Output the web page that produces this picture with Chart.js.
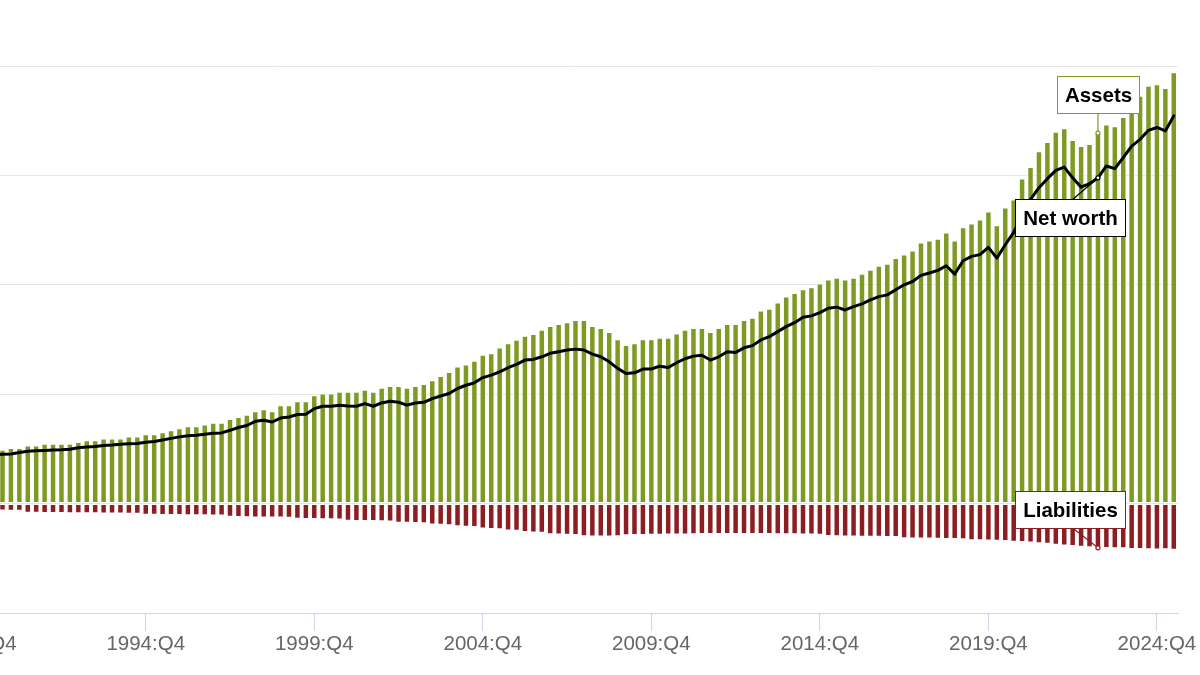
<!DOCTYPE html>
<html>
<head>
<meta charset="utf-8">
<script src="https://cdn.jsdelivr.net/npm/chart.js@4.4.1/dist/chart.umd.min.js"></script>
<style>
  html, body { margin: 0; padding: 0; background: #ffffff; overflow: hidden; width: 1200px; height: 675px; }
  #wrap { position: absolute; left: -70px; top: 0; width: 1270px; height: 675px; }
</style>
</head>
<body>
<div id="wrap"><canvas id="c"></canvas></div>
<script>
// ---- Categories: quarters 1989:Q4 .. 2025:Q2 ----
const firstYear = 1989, firstQuarter = 4, lastYear = 2025, lastQuarter = 2;
const categories = [];
for (let y = firstYear; y <= lastYear; y++) {
  for (let q = 1; q <= 4; q++) {
    if ((y === firstYear && q < firstQuarter) || (y === lastYear && q > lastQuarter)) continue;
    categories.push(y + ':Q' + q);
  }
}

// ---- Tick labels on the x axis ----
const tickLabels = ['1989:Q4', '1994:Q4', '1999:Q4', '2004:Q4', '2009:Q4', '2014:Q4', '2019:Q4', '2024:Q4'];

// ---- Assets (trillions of dollars) ----
const assets = [
  null,                        // 1989 Q4
  null, 24.2, 24.6, 25.4,      // 1990
  25.4, 26.5, 26.5, 27.4,      // 1991
  27.4, 27.4, 27.4, 28.1,      // 1992
  28.9, 28.9, 29.8, 29.8,      // 1993
  29.8, 30.7, 30.7, 31.7,      // 1994
  31.7, 32.6, 33.5, 34.4,      // 1995
  35.3, 35.3, 36.2, 37.0,      // 1996
  37.0, 38.7, 39.6, 40.6,      // 1997
  42.2, 43.1, 42.2, 45.0,      // 1998
  45.0, 46.8, 46.8, 49.5,      // 1999
  50.3, 50.3, 51.1, 51.1,      // 2000
  51.1, 52.0, 51.1, 52.9,      // 2001
  53.7, 53.7, 52.9, 53.8,      // 2002
  54.7, 56.4, 58.3, 60.1,      // 2003
  62.7, 63.6, 65.3, 68.0,      // 2004
  68.7, 71.4, 73.3, 74.9,      // 2005
  76.7, 77.5, 79.4, 81.2,      // 2006
  82.1, 82.9, 83.9, 83.9,      // 2007
  81.2, 80.3, 78.4, 75.1,      // 2008
  72.5, 73.3, 75.1, 75.1,      // 2009
  75.8, 75.8, 77.7, 79.4,      // 2010
  80.3, 80.3, 78.4, 80.3,      // 2011
  82.1, 82.1, 83.9, 84.9,      // 2012
  88.2, 89.1, 91.9, 94.6,      // 2013
  96.2, 98.0, 98.9, 100.6,     // 2014
  102.4, 103.2, 102.4, 103.2,  // 2015
  105.0, 106.9, 108.7, 109.6,  // 2016
  112.2, 113.9, 115.7, 119.3,  // 2017
  120.2, 121.1, 123.9, 120.2,  // 2018
  126.3, 128.0, 129.8, 133.5,  // 2019
  127.2, 135.3, 139.0, 148.6,  // 2020
  153.8, 161.0, 165.3, 169.9,  // 2021
  171.6, 166.2, 163.4, 164.4,  // 2022
  169.3, 173.3, 172.5, 176.7,  // 2023
  181.0, 186.4, 191.0, 191.7,  // 2024
  189.9, 197.1                 // 2025
];

// ---- Net worth (trillions of dollars) ----
const netWorth = [
  null,                        // 1989 Q4
  null, 22.2, 22.5, 22.7,      // 1990
  23.4, 23.9, 24.1, 24.3,      // 1991
  24.5, 24.6, 24.8, 25.5,      // 1992
  25.9, 26.1, 26.6, 26.8,      // 1993
  27.1, 27.3, 27.5, 28.0,      // 1994
  28.4, 29.1, 29.8, 30.5,      // 1995
  31.0, 31.2, 31.7, 32.1,      // 1996
  32.3, 33.5, 34.8, 35.7,      // 1997
  37.6, 38.1, 37.3, 39.1,      // 1998
  39.6, 40.7, 40.8, 43.4,      // 1999
  44.5, 44.5, 45.0, 44.6,      // 2000
  44.5, 45.7, 44.5, 46.0,      // 2001
  46.8, 46.3, 45.0, 46.0,      // 2002
  46.3, 48.0, 49.2, 50.3,      // 2003
  52.6, 54.1, 55.2, 57.6,      // 2004
  58.7, 60.2, 62.1, 63.6,      // 2005
  65.6, 65.9, 67.1, 68.7,      // 2006
  69.4, 70.2, 70.6, 70.2,      // 2007
  68.3, 67.1, 64.8, 61.8,      // 2008
  59.5, 59.8, 61.5, 61.5,      // 2009
  62.8, 62.2, 64.4, 66.2,      // 2010
  67.4, 67.8, 65.6, 67.1,      // 2011
  69.4, 69.1, 71.2, 72.2,      // 2012
  74.8, 76.3, 78.6, 80.9,      // 2013
  82.7, 85.2, 85.8, 87.3,      // 2014
  89.3, 89.8, 88.5, 90.0,      // 2015
  91.3, 93.1, 94.6, 95.4,      // 2016
  97.7, 100.0, 101.5, 104.3,   // 2017
  105.4, 106.6, 108.7, 104.9,  // 2018
  111.0, 113.0, 113.8, 117.1,  // 2019
  112.2, 118.3, 124.0, 132.0,  // 2020
  139.0, 144.4, 148.5, 152.3,  // 2021
  153.8, 148.9, 144.6, 146.2,  // 2022
  148.9, 154.3, 153.1, 158.1,  // 2023
  163.4, 166.5, 170.6, 171.9,  // 2024
  170.3, 177.2                 // 2025
];

// ---- Liabilities (trillions of dollars, plotted below zero) ----
const liabilities = [
  null,                          // 1989 Q4
  null, -3.2, -3.2, -3.3,        // 1990
  -3.3, -4.2, -4.2, -4.3,        // 1991
  -4.3, -4.3, -4.4, -4.4,        // 1992
  -4.4, -4.4, -4.5, -4.5,        // 1993
  -4.5, -4.6, -4.6, -5.1,        // 1994
  -5.1, -5.2, -5.2, -5.2,        // 1995
  -5.3, -5.3, -5.3, -5.4,        // 1996
  -5.4, -6.0, -6.1, -6.2,        // 1997
  -6.3, -6.3, -6.4, -6.4,        // 1998
  -6.5, -6.9, -7.0, -7.0,        // 1999
  -7.1, -7.2, -7.3, -7.8,        // 2000
  -7.9, -7.9, -8.0, -8.1,        // 2001
  -8.2, -8.7, -8.8, -8.9,        // 2002
  -9.0, -9.6, -9.7, -9.9,        // 2003
  -10.4, -10.6, -10.7, -11.4,    // 2004
  -11.6, -11.7, -12.3, -12.4,    // 2005
  -13.0, -13.2, -13.3, -14.0,    // 2006
  -14.1, -14.2, -14.4, -14.9,    // 2007
  -15.0, -15.0, -15.0, -14.9,    // 2008
  -14.5, -14.4, -14.3, -14.2,    // 2009
  -14.2, -14.1, -14.1, -14.1,    // 2010
  -14.0, -13.9, -13.9, -13.9,    // 2011
  -13.9, -13.9, -13.9, -13.9,    // 2012
  -13.9, -13.9, -14.0, -14.0,    // 2013
  -14.0, -14.1, -14.1, -14.2,    // 2014
  -14.8, -14.9, -15.0, -15.0,    // 2015
  -15.1, -15.1, -15.2, -15.3,    // 2016
  -15.3, -15.8, -15.9, -16.0,    // 2017
  -16.0, -16.1, -16.2, -16.2,    // 2018
  -16.3, -16.7, -16.8, -16.9,    // 2019
  -17.0, -17.1, -17.4, -17.5,    // 2020
  -17.8, -18.1, -18.4, -18.8,    // 2021
  -19.1, -19.4, -19.7, -19.9,    // 2022
  -20.2, -20.3, -20.4, -20.4,    // 2023
  -20.7, -20.8, -20.9, -21.0,    // 2024
  -20.9, -21.1                   // 2025
];

// Quarter the three callouts point at
const annotationQuarter = '2023:Q1';

const FONT = '"Liberation Sans", Arial, Helvetica, sans-serif';
const assetColor = '#7d9a22';
const liabColor = '#8c1d22';

const callouts = {
  id: 'callouts',
  afterDatasetsDraw(chart) {
    const ctx = chart.ctx, xs = chart.scales.x, ys = chart.scales.y;
    const i = categories.indexOf(annotationQuarter);
    const x = xs.getPixelForValue(i);
    const items = [
      { text: 'Assets', value: assets[i], color: assetColor, dx: 0, dy: -38.5, lineDx: 0 },
      { text: 'Net worth', value: netWorth[i], color: '#000000', dx: -28, dy: 40, lineDx: -25 },
      { text: 'Liabilities', value: liabilities[i], color: liabColor, dx: -28, dy: -38, lineDx: -25 }
    ];
    ctx.save();
    ctx.font = 'bold 20.5px ' + FONT;
    items.forEach(it => {
      const ay = ys.getPixelForValue(it.value);
      const w = Math.round(ctx.measureText(it.text).width + 15), h = 37;
      const cx = x + it.dx, cy = ay + it.dy;
      const edgeY = it.dy < 0 ? cy + h / 2 : cy - h / 2;
      ctx.strokeStyle = it.color;
      ctx.lineWidth = 1.2;
      ctx.beginPath();
      ctx.moveTo(x + it.lineDx, edgeY);
      ctx.lineTo(x, ay);
      ctx.stroke();
      ctx.beginPath();
      ctx.arc(x, ay, 2, 0, Math.PI * 2);
      ctx.fillStyle = '#ffffff';
      ctx.fill();
      ctx.stroke();
      const bx = Math.round(cx - w / 2) + 0.5, by = Math.round(cy - h / 2) + 0.5;
      ctx.fillStyle = '#ffffff';
      ctx.fillRect(bx, by, w, h);
      ctx.lineWidth = 1;
      ctx.strokeRect(bx, by, w, h);
      ctx.fillStyle = '#000000';
      ctx.textAlign = 'center';
      ctx.textBaseline = 'middle';
      ctx.fillText(it.text, bx + w / 2, by + h / 2 + 1);
    });
    ctx.restore();
  }
};

new Chart(document.getElementById('c'), {
  type: 'bar',
  data: {
    labels: categories,
    datasets: [
      {
        type: 'line', label: 'Net worth', data: netWorth,
        borderColor: '#000000', backgroundColor: '#000000', borderWidth: 3,
        pointRadius: 0, tension: 0, order: 0,
        borderJoinStyle: 'round', borderCapStyle: 'round'
      },
      {
        type: 'bar', label: 'Assets', data: assets,
        backgroundColor: assetColor, borderColor: '#ffffff', borderWidth: 1, borderSkipped: false,
        grouped: false, barPercentage: 0.77, categoryPercentage: 1, order: 1
      },
      {
        type: 'bar', label: 'Liabilities', data: liabilities,
        backgroundColor: liabColor, borderColor: '#ffffff', borderWidth: 1, borderSkipped: false,
        grouped: false, barPercentage: 0.77, categoryPercentage: 1, order: 1
      }
    ]
  },
  options: {
    responsive: true,
    maintainAspectRatio: false,
    animation: false,
    layout: { padding: { left: 43, right: 22, top: 66, bottom: 0 } },
    plugins: { legend: { display: false }, tooltip: { enabled: false } },
    scales: {
      x: {
        type: 'category',
        offset: true,
        afterBuildTicks: s => { s.ticks = s.ticks.filter(t => tickLabels.includes(categories[t.value])); },
        afterFit: s => { s.height = 62; },
        grid: { display: true, offset: false, drawOnChartArea: false, drawTicks: true, tickLength: 18, color: '#ccd6eb' },
        border: { display: true, color: '#ccd6eb' },
        ticks: { autoSkip: false, maxRotation: 0, minRotation: 0, padding: 1, color: '#666666',
                 font: { family: FONT, size: 20.5 } }
      },
      y: {
        min: -50, max: 200,
        afterFit: s => { s.width = 0; },
        ticks: { display: false, stepSize: 50 },
        grid: { color: '#e6e6e6', drawTicks: false },
        border: { display: false }
      }
    }
  },
  plugins: [callouts]
});
</script>
</body>
</html>
